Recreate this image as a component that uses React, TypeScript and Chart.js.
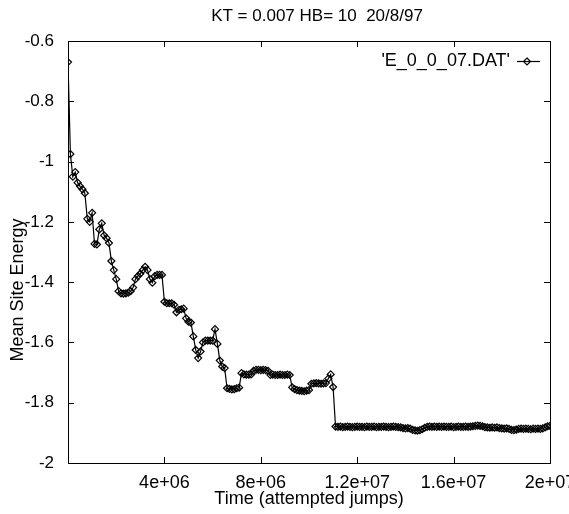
import React, { useEffect, useRef } from 'react';
import { Chart, registerables } from 'chart.js';

Chart.register(...registerables);

const TITLE = 'KT = 0.007 HB= 10  20/8/97';
const SERIES_LABEL = "'E_0_0_07.DAT'";
const X_LABEL = 'Time (attempted jumps)';
const Y_LABEL = 'Mean Site Energy';

// sampling interval of the run (attempted jumps between samples)
const SAMPLE_STEP = 1e5;

// mean site energy, one value per sample
const energy: number[] = [
  -0.67, -0.975, -1.05, -1.035, -1.07, -1.082, -1.092, -1.105, -1.19, -1.2,
  -1.17, -1.273, -1.275, -1.225, -1.205, -1.245, -1.254, -1.27, -1.33, -1.36,
  -1.39, -1.43, -1.437, -1.438, -1.437, -1.435, -1.43, -1.418, -1.39, -1.38,
  -1.372, -1.36, -1.349, -1.36, -1.39, -1.402, -1.38, -1.376, -1.376, -1.376,
  -1.465, -1.47, -1.47, -1.47, -1.475, -1.5, -1.492, -1.49, -1.488, -1.52,
  -1.531, -1.534, -1.58, -1.625, -1.652, -1.63, -1.6, -1.594, -1.594, -1.594,
  -1.594, -1.556, -1.605, -1.66, -1.68, -1.685, -1.752, -1.754, -1.756, -1.755,
  -1.752, -1.75, -1.702, -1.706, -1.707, -1.707, -1.706, -1.694, -1.691, -1.691,
  -1.692, -1.691, -1.692, -1.694, -1.708, -1.707, -1.708, -1.708, -1.707, -1.708,
  -1.708, -1.707, -1.708, -1.749, -1.755, -1.758, -1.76, -1.761, -1.762, -1.76,
  -1.758, -1.737, -1.736, -1.735, -1.736, -1.737, -1.736, -1.735, -1.72, -1.706,
  -1.748, -1.879,
  -1.88, -1.879, -1.881, -1.88, -1.879, -1.88, -1.881, -1.88, -1.879, -1.88,
  -1.88, -1.881, -1.879, -1.88, -1.88, -1.879, -1.881, -1.88, -1.88, -1.879,
  -1.88, -1.881, -1.88, -1.879, -1.88, -1.881, -1.882,
  -1.884, -1.885, -1.884, -1.886,
  -1.89, -1.892, -1.893, -1.891, -1.888, -1.883,
  -1.88, -1.879, -1.88, -1.879, -1.88, -1.879, -1.88,
  -1.879, -1.88, -1.88, -1.879, -1.881, -1.88, -1.879, -1.88, -1.88, -1.879, -1.88, -1.879, -1.878,
  -1.877, -1.876, -1.877, -1.878,
  -1.881, -1.882, -1.883, -1.882, -1.883, -1.882, -1.884,
  -1.885, -1.886, -1.885, -1.887,
  -1.89, -1.891, -1.889,
  -1.887, -1.886, -1.887, -1.886, -1.887, -1.888, -1.886, -1.887, -1.886, -1.887, -1.885,
  -1.882, -1.878, -1.877,
];

const X_MIN = 0;
const X_MAX = 2e7;
const X_STEP = 4e6;
const Y_MIN = -2;
const Y_MAX = -0.6;
const Y_STEP = 0.2;

const FONT_FAMILY = '"Liberation Sans", Arial, Helvetica, sans-serif';

function fmtExp(v: number): string {
  if (v === 0) return '';
  const exp = Math.floor(Math.log10(Math.abs(v)) + 1e-9);
  const mant = Number((v / Math.pow(10, exp)).toFixed(3));
  const sign = exp < 0 ? '-' : '+';
  return `${mant}e${sign}${String(Math.abs(exp)).padStart(2, '0')}`;
}

function drawDiamond(ctx: CanvasRenderingContext2D, x: number, y: number, r: number) {
  ctx.beginPath();
  ctx.moveTo(x, y - r);
  ctx.lineTo(x + r, y);
  ctx.lineTo(x, y + r);
  ctx.lineTo(x - r, y);
  ctx.closePath();
  ctx.stroke();
}

const decorPlugin = {
  id: 'decor',
  afterDraw(chart: any) {
    const { ctx, chartArea: a, scales } = chart;
    ctx.save();
    ctx.strokeStyle = '#000';
    ctx.fillStyle = '#000';
    ctx.lineWidth = 1;
    // frame
    ctx.strokeRect(Math.round(a.left) + 0.5, Math.round(a.top) + 0.5,
      Math.round(a.right - a.left), Math.round(a.bottom - a.top));
    // inward tick marks, mirrored on all four sides
    const T = 6;
    ctx.beginPath();
    scales.x.ticks.forEach((t: any) => {
      const px = Math.round(scales.x.getPixelForValue(t.value)) + 0.5;
      ctx.moveTo(px, a.bottom); ctx.lineTo(px, a.bottom - T);
      ctx.moveTo(px, a.top); ctx.lineTo(px, a.top + T);
    });
    scales.y.ticks.forEach((t: any) => {
      const py = Math.round(scales.y.getPixelForValue(t.value)) + 0.5;
      ctx.moveTo(a.left, py); ctx.lineTo(a.left + T, py);
      ctx.moveTo(a.right, py); ctx.lineTo(a.right - T, py);
    });
    ctx.stroke();

    // title
    ctx.font = `17px ${FONT_FAMILY}`;
    ctx.textAlign = 'center';
    ctx.textBaseline = 'middle';
    ctx.fillText(TITLE, 317, 16);

    // key (gnuplot style: label, then line sample with point)
    ctx.font = `18px ${FONT_FAMILY}`;
    ctx.textAlign = 'right';
    ctx.fillText(SERIES_LABEL, 510, 61);
    ctx.lineWidth = 1.2;
    ctx.beginPath();
    ctx.moveTo(517, 61.5);
    ctx.lineTo(540, 61.5);
    ctx.stroke();
    drawDiamond(ctx, 527, 61.5, 3.5);

    // y axis title
    ctx.save();
    ctx.translate(18, 290);
    ctx.rotate(-Math.PI / 2);
    ctx.textAlign = 'center';
    ctx.textBaseline = 'middle';
    ctx.fillText(Y_LABEL, 0, 0);
    ctx.restore();

    ctx.restore();
  },
};

export default function App() {
  const ref = useRef<HTMLCanvasElement>(null);

  useEffect(() => {
    const points = energy.map((e, i) => ({ x: i * SAMPLE_STEP, y: e }));
    const chart = new Chart(ref.current!, {
      type: 'line',
      data: {
        datasets: [
          {
            label: SERIES_LABEL,
            data: points,
            borderColor: '#000',
            borderWidth: 1.2,
            tension: 0,
            pointStyle: 'rectRot',
            pointRadius: 3.5,
            pointBorderWidth: 1.2,
            pointBorderColor: '#000',
            pointBackgroundColor: 'rgba(255,255,255,0)',
          },
        ],
      },
      options: {
        animation: false,
        responsive: false,
        maintainAspectRatio: false,
        layout: { padding: { top: 41, right: 19, left: 0, bottom: 0 } },
        plugins: {
          legend: { display: false },
          title: { display: false },
          tooltip: { enabled: false },
        },
        scales: {
          x: {
            type: 'linear',
            min: X_MIN,
            max: X_MAX,
            grid: { display: false },
            border: { display: false },
            ticks: {
              stepSize: X_STEP,
              maxRotation: 0,
              autoSkip: false,
              padding: 1,
              color: '#000',
              font: { family: FONT_FAMILY, size: 18 },
              callback: (v: any) => fmtExp(Number(v)),
            },
            title: {
              display: true,
              text: X_LABEL,
              color: '#000',
              font: { family: FONT_FAMILY, size: 18 },
              padding: { top: 0, bottom: 4 },
            },
            afterFit: (s: any) => {
              s.height = 51;
              s.paddingLeft = 0;
              s.paddingRight = 0;
            },
          },
          y: {
            type: 'linear',
            min: Y_MIN,
            max: Y_MAX,
            grid: { display: false },
            border: { display: false },
            ticks: {
              stepSize: Y_STEP,
              padding: 6,
              color: '#000',
              font: { family: FONT_FAMILY, size: 17 },
              callback: (v: any) => String(Number(Number(v).toFixed(1))),
            },
            afterFit: (s: any) => {
              s.width = 68;
            },
          },
        },
      },
      plugins: [decorPlugin],
    });
    return () => chart.destroy();
  }, []);

  return (
    <div
      style={{
        position: 'absolute',
        left: 0,
        top: 0,
        width: 569,
        height: 514,
        overflow: 'hidden',
        background: '#fff',
      }}
    >
      <canvas ref={ref} width={569} height={514} style={{ display: 'block', width: 569, height: 514 }} />
    </div>
  );
}
